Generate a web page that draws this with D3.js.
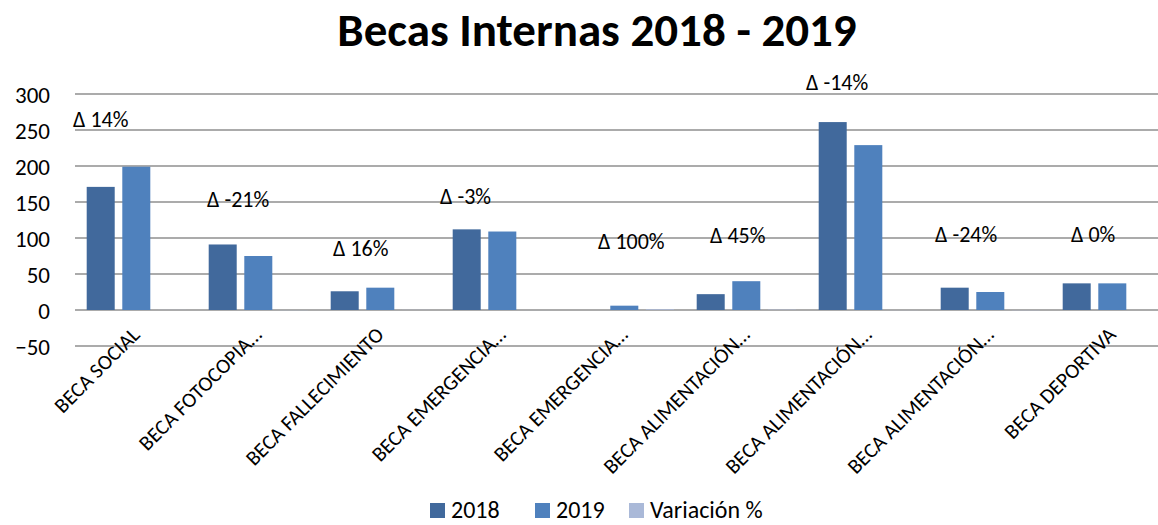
<!DOCTYPE html>
<html>
<head>
    <meta http-equiv="Content-type" content="text/html; charset=utf-8">
    <title>Becas Internas 2018 - 2019</title>
    <script type="text/javascript" src="https://cdn.jsdelivr.net/npm/d3@7"></script>
    <style type="text/css">
        body { margin: 0; background: #fff; }
        text { font-family: Carlito, Calibri, Lato, sans-serif; fill: #000; }
    </style>
</head>
<body>
<div id="chart"></div>
<script type="text/javascript">
    // data
    var categories = ['BECA SOCIAL', 'BECA FOTOCOPIA…', 'BECA FALLECIMIENTO', 'BECA EMERGENCIA…',
        'BECA EMERGENCIA…', 'BECA ALIMENTACIÓN…', 'BECA ALIMENTACIÓN…', 'BECA ALIMENTACIÓN…', 'BECA DEPORTIVA'];
    var series = ['2018', '2019', 'Variación %'];
    var values2018 = [171, 91, 26, 112, 0, 22, 261, 31, 37];
    var values2019 = [199, 75, 31, 109, 6, 40, 229, 25, 37];
    var variacion = [0.14, -0.21, 0.16, -0.03, 1.00, 0.45, -0.14, -0.24, 0];
    var deltaLabels = ['Δ 14%', 'Δ -21%', 'Δ 16%', 'Δ -3%', 'Δ 100%', 'Δ 45%', 'Δ -14%', 'Δ -24%', 'Δ 0%'];
    var yTicks = [-50, 0, 50, 100, 150, 200, 250, 300];

    var width = 1158;
    var height = 525;
    var colors = ['#41699C', '#4F81BD', '#AAB9D8'];

    // the delta labels were placed by hand: left offset in the band (px), baseline in axis units
    var labelDx = [-2, 10, 14, -1, 35, 25, -1, 6, 20];
    var labelAt = [254, 143, 75, 147, 85, 93, 306, 94, 94];

    var rows = categories.map(function(c, i) {
        return { cat: i, vals: [values2018[i], values2019[i], variacion[i]] };
    });

    var svg = d3.select('#chart')
        .append('svg')
        .attr('width', width)
        .attr('height', height);

    var x0 = d3.scaleBand()
        .domain(d3.range(categories.length))
        .range([75, 75 + 122 * categories.length])
        .paddingInner(0).paddingOuter(0);
    var x1 = d3.scaleBand()
        .domain(d3.range(series.length))
        .range([11.7, 110.9])
        .paddingInner(0.213).paddingOuter(0);
    var y = d3.scaleLinear()
        .domain([-50, 300])
        .range([346, 94]);

    // title
    svg.append('text')
        .attr('x', 597)
        .attr('y', 46)
        .attr('text-anchor', 'middle')
        .style('font-size', '47px')
        .style('font-weight', 'bold')
        .text('Becas Internas 2018 - 2019');

    // gridlines
    svg.append('g')
        .selectAll('line')
        .data(yTicks)
        .enter()
        .append('line')
        .attr('x1', 75)
        .attr('x2', width)
        .attr('y1', function(d) { return y(d); })
        .attr('y2', function(d) { return y(d); })
        .attr('stroke', '#8f8f8f')
        .attr('stroke-width', 1.6);

    // y axis labels
    var yAxis = d3.axisLeft(y).tickValues(yTicks).tickSize(0).tickPadding(0);
    var ya = svg.append('g')
        .attr('transform', 'translate(50,0)')
        .call(yAxis);
    ya.select('.domain').remove();
    ya.selectAll('text')
        .style('font-size', '23px')
        .attr('dy', '0.35em');

    // bars
    var groups = svg.append('g')
        .selectAll('g')
        .data(rows)
        .enter()
        .append('g')
        .attr('transform', function(d) { return 'translate(' + x0(d.cat) + ',0)'; });

    groups.selectAll('rect')
        .data(function(d) { return d.vals.map(function(v, k) { return { k: k, v: v }; }); })
        .enter()
        .append('rect')
        .attr('x', function(d) { return x1(d.k); })
        .attr('width', x1.bandwidth())
        .attr('y', function(d) { return y(Math.max(0, d.v)); })
        .attr('height', function(d) { return Math.abs(y(d.v) - y(0)); })
        .attr('fill', function(d) { return colors[d.k]; });

    // delta labels
    svg.append('g')
        .selectAll('text')
        .data(deltaLabels)
        .enter()
        .append('text')
        .attr('x', function(d, i) { return x0(i) + labelDx[i]; })
        .attr('y', function(d, i) { return y(labelAt[i]); })
        .style('font-size', '22px')
        .text(function(d) { return d; });

    // category labels
    svg.append('g')
        .selectAll('text')
        .data(categories)
        .enter()
        .append('text')
        .attr('text-anchor', 'end')
        .attr('transform', function(d, i) {
            return 'translate(' + (x0(i) + x0.bandwidth() / 2 + 5) + ',336) rotate(-45)';
        })
        .style('font-size', '21px')
        .text(function(d) { return d; });

    // legend
    var legendX = [430, 535, 629];
    var legend = svg.append('g')
        .selectAll('g')
        .data(series)
        .enter()
        .append('g')
        .attr('transform', function(d, i) { return 'translate(' + legendX[i] + ',503)'; });
    legend.append('rect')
        .attr('width', 15)
        .attr('height', 15)
        .attr('fill', function(d, i) { return colors[i]; });
    legend.append('text')
        .attr('x', 21)
        .attr('y', 15)
        .style('font-size', '24px')
        .text(function(d) { return d; });
</script>
</body>
</html>
